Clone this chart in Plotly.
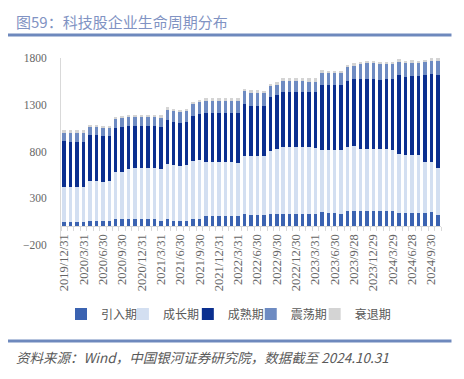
import plotly.graph_objects as go

DATES = [
    "2019/12/31",
    "2020/1/23", "2020/2/28", "2020/3/31", "2020/4/30", "2020/5/29", "2020/6/30",
    "2020/7/31", "2020/8/31", "2020/9/30", "2020/10/30", "2020/11/30", "2020/12/31",
    "2021/1/29", "2021/2/26", "2021/3/31", "2021/4/30", "2021/5/31", "2021/6/30",
    "2021/7/30", "2021/8/31", "2021/9/30", "2021/10/29", "2021/11/30", "2021/12/31",
    "2022/1/28", "2022/2/28", "2022/3/31", "2022/4/29", "2022/5/31", "2022/6/30",
    "2022/7/29", "2022/8/31", "2022/9/30", "2022/10/31", "2022/11/30", "2022/12/30",
    "2023/1/31", "2023/2/28", "2023/3/31", "2023/4/28", "2023/5/31", "2023/6/30",
    "2023/7/31", "2023/8/31", "2023/9/28", "2023/10/31", "2023/11/30", "2023/12/29",
    "2024/1/31", "2024/2/29", "2024/3/29", "2024/4/30", "2024/5/31", "2024/6/28",
    "2024/7/31", "2024/8/30", "2024/9/30", "2024/10/31",
]

TICK_LABELS = [
    "2019/12/31", "2020/3/31", "2020/6/30", "2020/9/30", "2020/12/31",
    "2021/3/31", "2021/6/30", "2021/9/30", "2021/12/31", "2022/3/31",
    "2022/6/30", "2022/9/30", "2022/12/30", "2023/3/31", "2023/6/30",
    "2023/9/28", "2023/12/29", "2024/3/29", "2024/6/28", "2024/9/30",
]

INTRO = [48, 48, 48, 42, 55, 55, 55, 55, 73, 73, 73, 73, 73, 73, 73, 55, 77, 59, 59, 59,
         77, 77, 112, 112, 112, 112, 109, 105, 127, 116, 116, 116, 130, 130, 130, 130, 130, 132, 130, 130,
         151, 141, 141, 135, 162, 165, 168, 168, 168, 168, 168, 162, 143, 137, 137, 137, 142, 151, 125]
GROWTH = [370, 370, 370, 383, 429, 427, 423, 429, 508, 508, 544, 555, 555, 555, 555, 562, 593, 601, 591, 597,
          621, 629, 576, 576, 576, 576, 579, 572, 621, 632, 632, 632, 679, 692, 718, 718, 718, 716, 716, 707,
          669, 679, 679, 685, 686, 693, 658, 658, 658, 658, 656, 650, 627, 625, 625, 622, 542, 539, 503]
MATURE = [490, 483, 483, 473, 496, 490, 487, 484, 469, 480, 454, 443, 443, 443, 443, 444, 462, 454, 456, 458,
          480, 494, 526, 529, 529, 529, 529, 540, 562, 544, 544, 544, 572, 582, 592, 588, 588, 588, 594, 595,
          689, 689, 689, 689, 707, 715, 751, 754, 754, 743, 749, 765, 846, 839, 850, 853, 932, 943, 991]
SHAKE = [98, 103, 103, 106, 91, 90, 90, 88, 93, 94, 104, 104, 104, 104, 104, 107, 117, 114, 116, 114,
         128, 125, 131, 128, 128, 128, 128, 128, 133, 133, 133, 131, 117, 109, 110, 114, 114, 114, 108, 116,
         135, 131, 132, 131, 155, 149, 166, 163, 163, 171, 167, 163, 145, 142, 138, 138, 138, 139, 153]
DECLINE = [21, 21, 21, 21, 13, 13, 15, 14, 25, 23, 19, 19, 19, 19, 19, 20, 29, 25, 22, 25,
           24, 25, 27, 27, 27, 27, 25, 27, 27, 29, 29, 24, 25, 28, 37, 37, 37, 37, 37, 37,
           28, 22, 24, 21, 19, 21, 18, 22, 22, 21, 21, 21, 25, 29, 29, 22, 29, 28, 28]

SERIES = [
    ("引入期", INTRO, "#3B63B1"),
    ("成长期", GROWTH, "#D3DFF1"),
    ("成熟期", MATURE, "#0B2F8F"),
    ("震荡期", SHAKE, "#6E8BC2"),
    ("衰退期", DECLINE, "#D4D4D4"),
]

Y_TICKS = [-200, 300, 800, 1300, 1800]

PH = 187.0   # plot height px
PW = 380.5   # plot width px
LEGEND_LEFT = [0, 62, 127, 190, 254]  # px from plot left

fig = go.Figure()
legend_names = ["legend", "legend2", "legend3", "legend4", "legend5"]
for (name, vals, color), lg in zip(SERIES, legend_names):
    fig.add_trace(go.Bar(x=DATES, y=vals, name=name, legend=lg,
                         marker=dict(color=color, line=dict(width=0))))

ticktext = [d if d in TICK_LABELS else "" for d in DATES]

legend_common = dict(orientation="h", xanchor="left", y=-69 / PH, yanchor="middle",
                     font=dict(family="Noto Sans CJK SC", size=12, color="#595959"),
                     bgcolor="rgba(0,0,0,0)", borderwidth=0)
legends = {lg: dict(legend_common, x=px / PW) for lg, px in zip(legend_names, LEGEND_LEFT)}

fig.update_layout(
    width=456, height=371,
    barmode="stack", bargap=0.46,
    plot_bgcolor="white", paper_bgcolor="white",
    margin=dict(l=53, r=22.5, t=50, b=134, autoexpand=False),
    font=dict(family="Liberation Serif", color="#595959", size=11),
    showlegend=True,
    xaxis=dict(type="category", tickmode="array", tickvals=DATES, ticktext=ticktext,
               tickangle=-90, tickfont=dict(family="Liberation Serif", size=12.5, color="#666666"),
               anchor="free", position=0.1, showline=True, linecolor="#D9D9D9", linewidth=1,
               ticks="outside", ticklen=4, tickcolor="#D9D9D9", tickson="boundaries",
               ticklabelstandoff=2, showgrid=False, zeroline=False),
    yaxis=dict(range=[-200, 1800], tickmode="array", tickvals=Y_TICKS,
               tickfont=dict(family="Liberation Serif", size=11.5, color="#666666"),
               showgrid=False, zeroline=False, showline=True, linecolor="#D9D9D9", linewidth=1,
               ticks="", ticklabelstandoff=11),
    annotations=[
        dict(text="图59：科技股企业生命周期分布", xref="paper", yref="paper", x=-47 / PW, y=1 + 37 / PH,
             xanchor="left", yanchor="middle", showarrow=False,
             font=dict(family="Noto Sans CJK SC", size=15, color="#8193C3")),
        dict(text="<i>资料来源：Wind，中国银河证券研究院，数据截至 2024.10.31</i>", xref="paper", yref="paper",
             x=-47 / PW, y=-112 / PH, xanchor="left", yanchor="middle", showarrow=False,
             font=dict(family="Noto Sans CJK SC", size=13.5, color="#595959")),
    ],
    shapes=[
        dict(type="line", xref="paper", yref="paper", x0=-58 / PW, x1=391 / PW, y0=1 + 23 / PH, y1=1 + 23 / PH,
             line=dict(color="#6E89BD", width=3)),
        dict(type="line", xref="paper", yref="paper", x0=-58 / PW, x1=391 / PW, y0=-96 / PH, y1=-96 / PH,
             line=dict(color="#6E89BD", width=3)),
    ],
    **legends,
)

fig.write_html("out.html")
